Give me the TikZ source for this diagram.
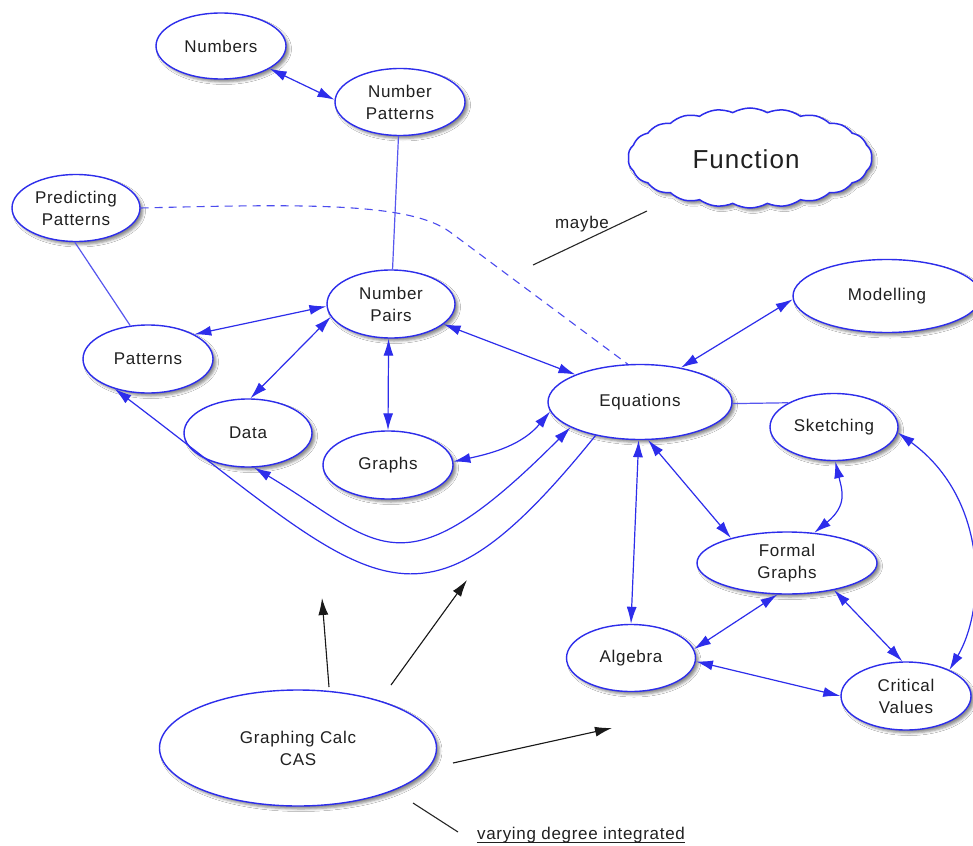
\documentclass[tikz,border=0pt]{standalone}
\usepackage{fontspec}
\setmainfont{Liberation Sans}[LetterSpace=4]
\usetikzlibrary{shapes.geometric,shapes.symbols,arrows.meta,shadows.blur}
\definecolor{cblue}{RGB}{45,45,235}
\definecolor{ctext}{RGB}{32,32,32}
\tikzset{
  bigtips/.style={{Latex[length=17pt,width=10pt]}-{Latex[length=17pt,width=10pt]}},
  endtip/.style={-{Latex[length=17pt,width=10pt]}},
  myshadow/.style={blur shadow={shadow xshift=3pt,shadow yshift=-3pt,shadow blur radius=2.5pt,shadow opacity=45}},
  concept/.style={ellipse,draw=cblue,line width=1.4pt,fill=white,inner sep=0pt,
    text=ctext,align=center,font=\fontsize{17}{22}\selectfont,myshadow},
  link/.style={draw=cblue,line width=1.2pt},
  plainlink/.style={draw=cblue!80,line width=1.2pt},
  dashlink/.style={draw=cblue!85,line width=1.1pt,dash pattern=on 8pt off 6pt},
  blackarrow/.style={draw=black!90,fill=black!90,line width=1.1pt,endtip},
  blackline/.style={draw=black!85,line width=1.1pt},
  label/.style={text=ctext,inner sep=0pt,font=\fontsize{17}{22}\selectfont},
}
\begin{document}
\begin{tikzpicture}[x=1pt,y=-1pt]
\path[use as bounding box,fill=white] (0,0) rectangle (973,845);
\clip (0,0) rectangle (973,845);

% nodes
\node[concept,minimum width=130pt,minimum height=66pt] (num) at (221,46) {Numbers};
\node[concept,minimum width=130pt,minimum height=67pt] (npat) at (400,102) {Number\\Patterns};
\node[cloud,cloud puffs=22,cloud puff arc=60,cloud ignores aspect,draw=cblue,line width=1.5pt,fill=white,
  minimum width=244pt,minimum height=100pt,inner sep=0pt,myshadow] (fun) at (750,158) {};
\node[label,anchor=base,font=\fontsize{26}{30}\selectfont] (funtxt) at (746,168) {Function};
\node[concept,minimum width=128pt,minimum height=67pt] (pred) at (76,208) {Predicting\\Patterns};
\node[concept,minimum width=128pt,minimum height=68pt] (npairs) at (391,304) {Number\\Pairs};
\node[concept,minimum width=188pt,minimum height=73pt] (model) at (887,296) {Modelling};
\node[concept,minimum width=130pt,minimum height=68pt] (pat) at (148,359) {Patterns};
\node[concept,minimum width=184pt,minimum height=75pt] (eq) at (640,402) {Equations};
\node[concept,minimum width=128pt,minimum height=68pt] (data) at (248,433) {Data};
\node[concept,minimum width=128pt,minimum height=67pt] (sk) at (834,427) {Sketching};
\node[concept,minimum width=130pt,minimum height=68pt] (graphs) at (388,465) {Graphs};
\node[concept,minimum width=180pt,minimum height=62pt] (fg) at (787,563) {Formal\\Graphs};
\node[concept,minimum width=129pt,minimum height=67pt] (alg) at (631,658) {Algebra};
\node[concept,minimum width=130pt,minimum height=68pt] (cv) at (906,696) {Critical\\Values};
\node[concept,minimum width=277pt,minimum height=116pt] (gc) at (298,748) {Graphing Calc\\CAS};

\node[label,anchor=base] (maybe) at (582,228) {maybe};
\node[label,anchor=base] (vd) at (581,839) {varying degree integrated};
\draw[ctext,line width=0.9pt] ([yshift=-3.5pt]vd.base west) -- ([yshift=-3.5pt]vd.base east);

% free coordinates
\coordinate (c1s) at (329,687); \coordinate (c1e) at (322,598);
\coordinate (c2s) at (391,685); \coordinate (c2e) at (467,580);
\coordinate (c3s) at (453,763); \coordinate (c3e) at (612,728);
\coordinate (m1) at (533,265);  \coordinate (m2) at (647,211);
\coordinate (v1) at (413,803);  \coordinate (v2) at (458,832);
\coordinate (dbend) at (450,232);

% connectors
\draw[link,bigtips] (num.-25) -- (npat.178);
\draw[plainlink] (npat) -- (npairs);
\draw[plainlink] (pred.-92) -- (pat.118);
\draw[dashlink] (pred.east) .. controls (300,204) and (410,202) .. (dbend) -- (eq.108);
\draw[link,bigtips] (pat.28) -- (npairs.182);
\draw[link,bigtips] (data.86) -- (npairs.192);
\draw[link,bigtips] (npairs.-94) -- (graphs.90);
\draw[link,bigtips] (npairs.-21) -- (eq.157);
\draw[link,bigtips] (graphs.3) to[out=12,in=-130] (eq.186);
\draw[link,bigtips] (data.-80) .. controls (379,542) and (399,600) .. (eq.200);
\draw[link,endtip] (eq.217) .. controls (415,659) and (375,586) .. (pat.222);
\draw[link,bigtips] (model.182) -- (eq.40);
\draw[plainlink] (eq.-1) -- (sk.152);
\draw[link,bigtips] (eq.-92) -- (alg.90);
\draw[link,bigtips] (eq.-78) -- (fg.156);
\draw[link,bigtips] (sk.-88) .. controls (842,490) and (848,505) .. (fg.48);
\draw[link,bigtips] (sk.-5) .. controls (990,500) and (985,610) .. (cv.31);
\draw[link,bigtips] (fg.253) -- (alg.8);
\draw[link,bigtips] (fg.-30) -- (cv.96);
\draw[link,bigtips] (alg.-3) -- (cv.180);

\draw[blackarrow] (c1s) -- (c1e);
\draw[blackarrow] (c2s) -- (c2e);
\draw[blackarrow] (c3s) -- (c3e);
\draw[blackline] (m1) -- (m2);
\draw[blackline] (v1) -- (v2);
\end{tikzpicture}
\end{document}
